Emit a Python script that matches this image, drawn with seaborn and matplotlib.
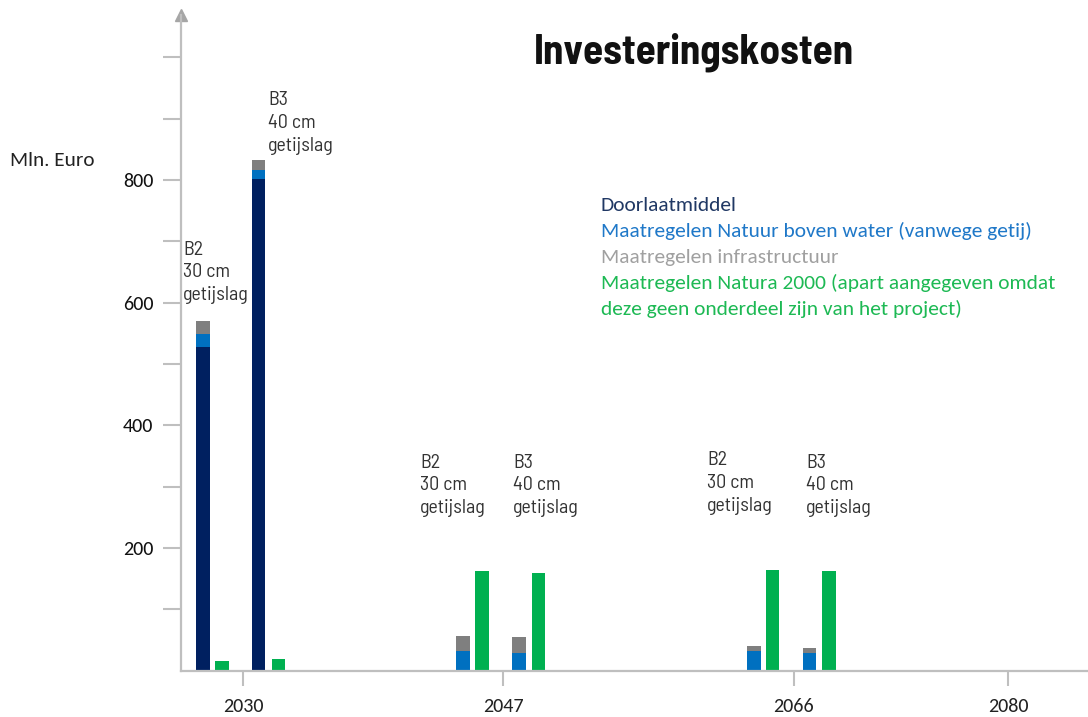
import numpy as np
import pandas as pd
import matplotlib
matplotlib.use("Agg")
import matplotlib.pyplot as plt
import seaborn as sns

# ---------------- data ----------------
groups = [2030, 2047, 2066]
variants = ["B2", "B3"]
variant_text = {"B2": "B2\n30 cm\ngetijslag", "B3": "B3\n40 cm\ngetijslag"}
# order: 2030-B2, 2030-B3, 2047-B2, 2047-B3, 2066-B2, 2066-B3
doorlaatmiddel = [528, 801, 0, 0, 0, 0]
natuur_boven_water = [21, 15, 32, 29, 32, 29]
infrastructuur = [21, 16, 24, 26, 8, 8]
natura2000 = [16, 19, 162, 159, 164, 162]
xtick_years = [2030, 2047, 2066, 2080]
ytick_labeled = [200, 400, 600, 800]
series_labels = [
    "Doorlaatmiddel",
    "Maatregelen Natuur boven water (vanwege getij)",
    "Maatregelen infrastructuur",
    "Maatregelen Natura 2000 (apart aangegeven omdat\ndeze geen onderdeel zijn van het project)",
]
title = "Investeringskosten"
ylabel = "Mln. Euro"

# ---------------- style / layout ----------------
C_NAVY, C_BLUE, C_GRAY, C_GREEN = "#002060", "#0070C0", "#7F7F7F", "#00B050"
TXT_COLORS = ["#203864", "#1F78C8", "#A0A0A0", "#1DB954"]
AX_COL = "#BFBFBF"
stack_off = {"B2": -2.61, "B3": 1.03}
green_off = {"B2": -1.38, "B3": 2.31}
bar_w = 0.88
label_pos = {  # (x offset from group year, top y value)
    (2030, "B2"): (-3.92, 701), (2030, "B3"): (1.63, 945),
    (2047, "B2"): (-5.43, 354), (2047, "B3"): (0.65, 354),
    (2066, "B2"): (-5.67, 358), (2066, "B3"): (0.80, 354),
}

sns.set_theme(style="white")
plt.rcParams["font.family"] = ["Carlito", "Lato", "DejaVu Sans"]
DIN = ["Barlow Semi Condensed", "Roboto", "DejaVu Sans"]

rows = []
i = 0
for g in groups:
    for v in variants:
        rows.append(dict(group=g, variant=v,
                         x_stack=g + stack_off[v], x_green=g + green_off[v],
                         navy=doorlaatmiddel[i], blue=natuur_boven_water[i],
                         gray=infrastructuur[i], green=natura2000[i]))
        i += 1
df = pd.DataFrame(rows)
df["cum_blue"] = df["navy"] + df["blue"]
df["cum_gray"] = df["cum_blue"] + df["gray"]

fig = plt.figure(figsize=(10.88, 7.17), dpi=100)
H, W = 717, 1088
ax = fig.add_axes([181 / W, 1 - 670.7 / H, 1 - 181 / W, (670.7 - 15) / H])

def wrel(xs):
    u = np.unique(np.asarray(xs, dtype=float))
    return bar_w / np.min(np.diff(u))

for col, c in [("cum_gray", C_GRAY), ("cum_blue", C_BLUE), ("navy", C_NAVY)]:
    sns.barplot(data=df, x="x_stack", y=col, native_scale=True, orient="x",
                color=c, saturation=1, width=wrel(df["x_stack"]),
                errorbar=None, linewidth=0, ax=ax)
sns.barplot(data=df, x="x_green", y="green", native_scale=True, orient="x",
            color=C_GREEN, saturation=1, width=wrel(df["x_green"]),
            errorbar=None, linewidth=0, ax=ax)

ax.set_xlim(2025.95, 2085.23)
ax.set_ylim(0, 1069)
ax.set_xlabel("")
ax.set_ylabel("")
ax.grid(False)
for s in ["top", "right"]:
    ax.spines[s].set_visible(False)
for s in ["left", "bottom"]:
    ax.spines[s].set_color(AX_COL)
    ax.spines[s].set_linewidth(1.6)

ax.set_xticks(xtick_years)
ax.set_xticklabels([str(y) for y in xtick_years])
yt = list(range(100, 1001, 100))
ax.set_yticks(yt)
ax.set_yticklabels([str(v) if v in ytick_labeled else "" for v in yt])
ax.tick_params(axis="x", direction="out", length=11, width=1.5, color=AX_COL,
               pad=9, labelsize=14.5, labelcolor="#222222", bottom=True)
ax.tick_params(axis="y", direction="out", length=13, width=1.5, color=AX_COL,
               pad=7, labelsize=14.5, labelcolor="#111111", left=True)

# arrow head on the y axis
ax.plot([0], [1], marker="^", markersize=8, color="#A6A6A6",
        transform=ax.transAxes, clip_on=False)

# variant annotations
for g in groups:
    for v in variants:
        dx, ytop = label_pos[(g, v)]
        ax.text(g + dx, ytop, variant_text[v], ha="left", va="top",
                fontsize=14.3, family=DIN, color="#333333", linespacing=1.34)

fig.text(694 / W, 1 - 63 / H, title, ha="center", va="baseline",
         fontsize=29.5, fontweight="bold", family=DIN, color="#111111")
fig.text(10 / W, 1 - 160 / H, ylabel, ha="left", va="center",
         fontsize=15.3, color="#222222")

# coloured text legend
line_y = 205.5
for lab, col in zip(series_labels, TXT_COLORS):
    for part in lab.split("\n"):
        fig.text(601 / W, 1 - line_y / H, part, ha="left", va="center",
                 fontsize=15.4, color=col)
        line_y += 25.8

fig.savefig("out.png", dpi=100)
